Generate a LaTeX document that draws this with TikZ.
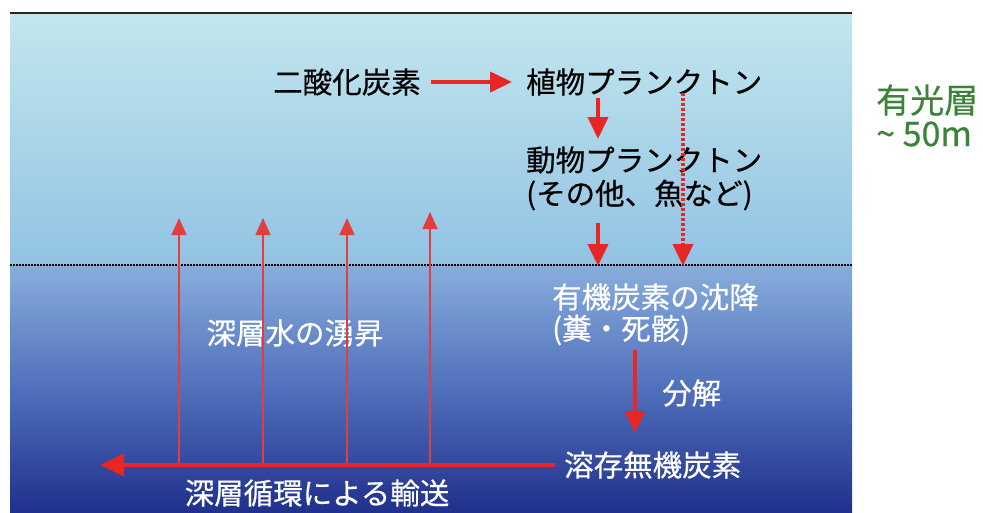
\documentclass[tikz,border=0pt]{standalone}
\usepackage{fontspec}
\newfontfamily\jp[FakeBold=0.5]{Noto Sans CJK JP}
\usetikzlibrary{arrows.meta}
\definecolor{seatop}{RGB}{194,230,237}
\definecolor{seamid}{RGB}{146,195,228}
\definecolor{deeptop}{RGB}{136,174,220}
\definecolor{deepmid}{RGB}{80,112,188}
\definecolor{deepbot}{RGB}{32,48,140}
\definecolor{arrred}{RGB}{232,38,38}
\definecolor{thinred}{RGB}{226,62,62}
\definecolor{lgreen}{RGB}{58,132,58}
\tikzset{
  lbl/.style={inner sep=0pt, font=\jp\fontsize{29.5}{32}\selectfont, text=black},
  wlbl/.style={lbl, text=white},
  glbl/.style={inner sep=0pt, font=\jp\fontsize{34}{36}\selectfont, text=lgreen},
  bigarr/.style={draw=arrred, line width=4pt, -{Triangle[width=20pt,length=22pt]}},
  dotarr/.style={draw=arrred, line width=3.5pt, dash pattern=on 3pt off 2pt, -{Triangle[width=20pt,length=22pt]}},
  uparr/.style={draw=thinred, line width=1.6pt, -{Triangle[width=15pt,length=17pt]}}
}
\begin{document}
\begin{tikzpicture}[x=1pt,y=-1pt]
\useasboundingbox (0,0) rectangle (983,512);
\fill[white] (0,0) rectangle (983,512);
% ocean
\shade[top color=seatop, bottom color=seamid] (10,14) rectangle (852,265);
\shade[top color=deeptop, bottom color=deepbot, middle color=deepmid] (10,265) rectangle (852,512);
\draw[black!85, line width=2.2pt] (10,13) -- (852,13);
\draw[black, line width=1.6pt, dash pattern=on 1.6pt off 1.4pt] (10,265) -- (852,265);

% labels
\node[lbl] (co2) at (347,82) {二酸化炭素};
\node[lbl, anchor=west] (phyto) at (526,82) {植物プランクトン};
\node[lbl, anchor=west] (zoo) at (526,160) {動物プランクトン};
\node[lbl, anchor=west] (zoo2) at (526,195) {(その他、魚など)};
\node[wlbl, anchor=west] (sink) at (552,297) {有機炭素の沈降};
\node[wlbl, anchor=west] (sink2) at (552,330) {(糞・死骸)};
\node[wlbl, anchor=west] (decomp) at (662,393) {分解};
\node[wlbl, anchor=west] (dic) at (564,465) {溶存無機炭素};
\node[wlbl] (upwell) at (295,333) {深層水の湧昇};
\node[wlbl] (trans) at (317,493) {深層循環による輸送};
\node[glbl, anchor=west] (euph) at (876,100) {有光層};
\node[glbl, anchor=west] (depth) at (876,134) {\textasciitilde{} 50m};

% connector end points
\coordinate (a1) at (598,98);
\coordinate (a2) at (598,139);
\coordinate (b1) at (598,223);
\coordinate (b2) at (598,266);
\coordinate (c1) at (683,93);
\coordinate (c2) at (683,266);
\coordinate (d1) at (635,350);
\coordinate (d2) at (635,433);
\coordinate (e1) at (555,465);
\coordinate (e2) at (100,465);
\coordinate (u1) at (179,465); \coordinate (v1) at (179,218);
\coordinate (u2) at (263,465); \coordinate (v2) at (263,218);
\coordinate (u3) at (347,465); \coordinate (v3) at (347,218);
\coordinate (u4) at (430,465); \coordinate (v4) at (430,212);

% arrows
\draw[bigarr] ([xshift=10pt]co2.east) -- ([xshift=-14pt]phyto.west);
\draw[bigarr] (a1) -- (a2);
\draw[bigarr] (b1) -- (b2);
\draw[dotarr] (c1) -- (c2);
\draw[uparr] (u1) -- (v1);
\draw[uparr] (u2) -- (v2);
\draw[uparr] (u3) -- (v3);
\draw[uparr] (u4) -- (v4);
\draw[bigarr, line width=3.6pt] (d1) -- (d2);
\draw[bigarr, line width=3.6pt, -{Triangle[width=22pt,length=24pt]}] (e1) -- (e2);
\end{tikzpicture}
\end{document}
